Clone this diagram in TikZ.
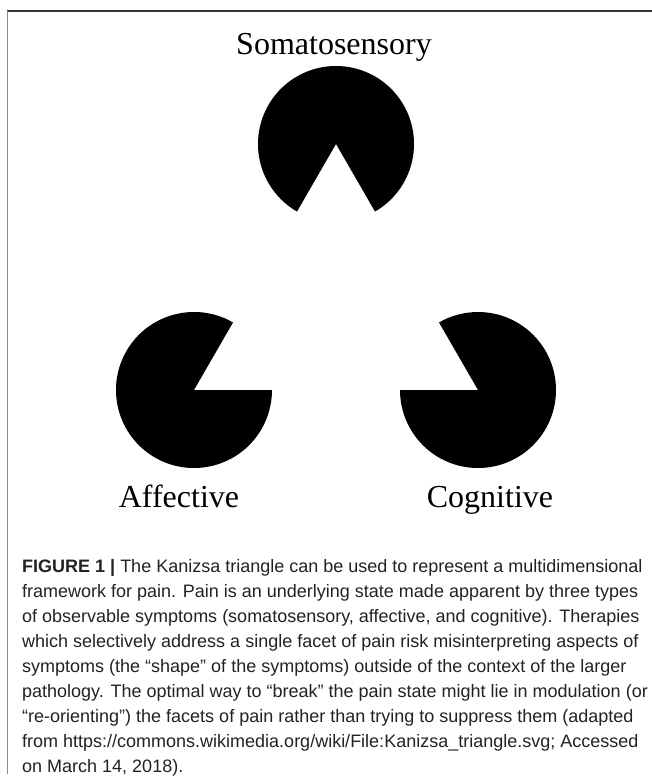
\documentclass[tikz,border=0pt]{standalone}
\usepackage{fontspec}
\setmainfont{Liberation Serif}
\newfontfamily\capfont{Liberation Sans}
\definecolor{captext}{HTML}{222222}
\definecolor{frametop}{HTML}{333333}
\definecolor{frameleft}{HTML}{8A8A8A}
\tikzset{
  pac/.style={fill=black},
  label/.style={font=\fontsize{32}{38}\selectfont, inner sep=0pt, anchor=base},
  captionbox/.style={font=\capfont\fontsize{18}{25}\selectfont, text=captext, inner sep=0pt, anchor=base west, align=left}
}
\begin{document}
\begin{tikzpicture}[x=1pt,y=1pt]
\useasboundingbox (0,0) rectangle (652,-779);
% frame
\draw[frametop, line width=1.3pt] (6.5,-11) -- (652,-11);
\draw[frameleft, line width=1.6pt] (7.3,-11) -- (7.3,-774);
% pacman centres
\coordinate (som) at (336,-144);
\coordinate (aff) at (194,-390);
\coordinate (cog) at (478,-390);
% pacmen
\fill[pac] (som) -- ++(300:78) arc[start angle=300, end angle=600, radius=78] -- cycle;
\fill[pac] (aff) -- ++(60:78) arc[start angle=60, end angle=360, radius=78] -- cycle;
\fill[pac] (cog) -- ++(180:78) arc[start angle=180, end angle=480, radius=78] -- cycle;
% labels
\node[label] (somlab) at (334,-54) {Somatosensory};
\node[label] (afflab) at (179,-507) {Affective};
\node[label] (coglab) at (490,-507) {Cognitive};
% caption (anchored at the baseline of its last line)
\node[captionbox] (caption) at (22,-772) {\textbf{FIGURE 1 |} The Kanizsa triangle can be used to represent a multidimensional\\
framework for pain. Pain is an underlying state made apparent by three types\\
of observable symptoms (somatosensory, affective, and cognitive). Therapies\\
which selectively address a single facet of pain risk misinterpreting aspects of\\
symptoms (the “shape” of the symptoms) outside of the context of the larger\\
pathology. The optimal way to “break” the pain state might lie in modulation (or\\
“re-orienting”) the facets of pain rather than trying to suppress them (adapted\\
from https://commons.wikimedia.org/wiki/File:Kanizsa\_triangle.svg; Accessed\\
on March 14, 2018).};
\end{tikzpicture}
\end{document}
